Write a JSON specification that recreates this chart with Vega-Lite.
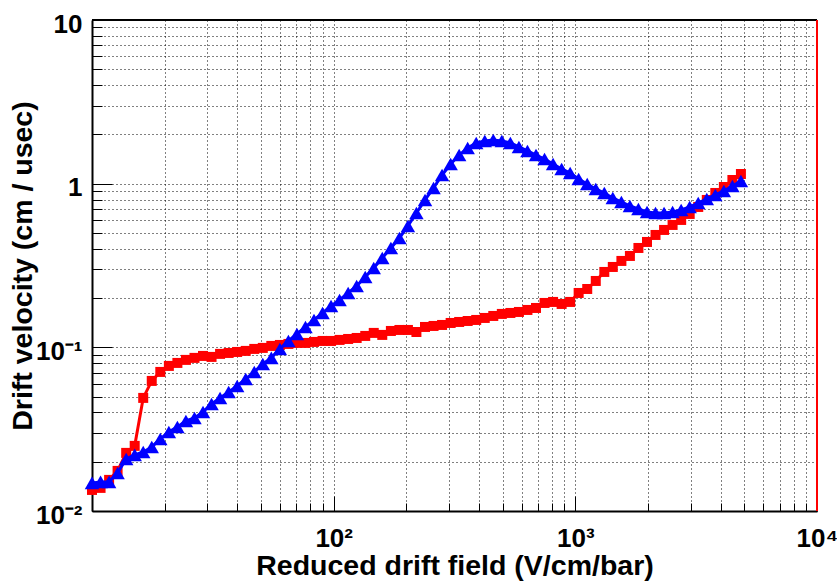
{
  "$schema": "https://vega.github.io/schema/vega-lite/v6.json",
  "width": 725,
  "height": 491,
  "autosize": {"type": "none"},
  "padding": {"left": 92, "top": 20, "right": 20, "bottom": 70},
  "background": "white",
  "config": {"view": {"stroke": null}},
  "data": {"values": [
    {"E":10.00,"s":"sq","v":0.01345},{"E":10.85,"s":"sq","v":0.01384},{"E":11.77,"s":"sq","v":0.01549},{"E":12.76,"s":"sq","v":0.01758},{"E":13.85,"s":"sq","v":0.02265},
    {"E":15.02,"s":"sq","v":0.025},{"E":16.29,"s":"sq","v":0.04909},{"E":17.67,"s":"sq","v":0.06234},{"E":19.17,"s":"sq","v":0.07075},{"E":20.80,"s":"sq","v":0.0770},
    {"E":22.56,"s":"sq","v":0.0803},{"E":24.47,"s":"sq","v":0.0838},{"E":26.55,"s":"sq","v":0.0862},{"E":28.80,"s":"sq","v":0.0886},{"E":31.24,"s":"sq","v":0.0874},
    {"E":33.88,"s":"sq","v":0.0912},{"E":36.76,"s":"sq","v":0.0924},{"E":39.87,"s":"sq","v":0.0937},{"E":43.25,"s":"sq","v":0.0951},{"E":46.93,"s":"sq","v":0.0978},
    {"E":50.90,"s":"sq","v":0.0992},{"E":55.21,"s":"sq","v":0.1020},{"E":59.90,"s":"sq","v":0.1034},{"E":64.97,"s":"sq","v":0.1049},{"E":70.47,"s":"sq","v":0.1064},
    {"E":76.44,"s":"sq","v":0.1064},{"E":82.91,"s":"sq","v":0.1079},{"E":89.95,"s":"sq","v":0.1094},{"E":97.54,"s":"sq","v":0.1094},{"E":105.8,"s":"sq","v":0.1110},
    {"E":114.8,"s":"sq","v":0.1125},{"E":124.5,"s":"sq","v":0.1141},{"E":135.1,"s":"sq","v":0.1174},{"E":146.5,"s":"sq","v":0.1225},{"E":158.9,"s":"sq","v":0.1191},
    {"E":172.5,"s":"sq","v":0.1259},{"E":187.1,"s":"sq","v":0.1277},{"E":202.9,"s":"sq","v":0.1277},{"E":220.0,"s":"sq","v":0.1241},{"E":238.8,"s":"sq","v":0.1332},
    {"E":259.0,"s":"sq","v":0.1351},{"E":280.9,"s":"sq","v":0.1370},{"E":304.8,"s":"sq","v":0.1409},{"E":330.6,"s":"sq","v":0.1429},{"E":358.5,"s":"sq","v":0.1449},
    {"E":388.9,"s":"sq","v":0.1470},{"E":421.9,"s":"sq","v":0.1512},{"E":457.6,"s":"sq","v":0.1555},{"E":496.4,"s":"sq","v":0.1600},{"E":538.6,"s":"sq","v":0.1622},
    {"E":584.2,"s":"sq","v":0.1645},{"E":633.6,"s":"sq","v":0.1692},{"E":687.5,"s":"sq","v":0.1740},{"E":745.7,"s":"sq","v":0.1867},{"E":808.9,"s":"sq","v":0.1894},
    {"E":877.6,"s":"sq","v":0.1841},{"E":951.7,"s":"sq","v":0.1894},{"E":1032,"s":"sq","v":0.2149},{"E":1120,"s":"sq","v":0.2273},{"E":1215,"s":"sq","v":0.2544},
    {"E":1318,"s":"sq","v":0.2888},{"E":1429,"s":"sq","v":0.3098},{"E":1551,"s":"sq","v":0.3372},{"E":1682,"s":"sq","v":0.3617},{"E":1824,"s":"sq","v":0.4047},
    {"E":1980,"s":"sq","v":0.4404},{"E":2147,"s":"sq","v":0.4860},{"E":2329,"s":"sq","v":0.5215},{"E":2526,"s":"sq","v":0.5595},{"E":2741,"s":"sq","v":0.6003},
    {"E":2973,"s":"sq","v":0.6530},{"E":3225,"s":"sq","v":0.7206},{"E":3499,"s":"sq","v":0.7953},{"E":3795,"s":"sq","v":0.8774},{"E":4117,"s":"sq","v":0.9546},
    {"E":4466,"s":"sq","v":1.053},{"E":4844,"s":"sq","v":1.146},
    {"E":10.00,"s":"tri","v":0.01485},{"E":10.85,"s":"tri","v":0.01506},{"E":11.77,"s":"tri","v":0.01506},{"E":12.76,"s":"tri","v":0.01709},{"E":13.85,"s":"tri","v":0.02080},
    {"E":15.02,"s":"tri","v":0.02202},{"E":16.29,"s":"tri","v":0.02296},{"E":17.67,"s":"tri","v":0.02463},{"E":19.17,"s":"tri","v":0.02757},{"E":20.80,"s":"tri","v":0.03042},
    {"E":22.56,"s":"tri","v":0.03264},{"E":24.47,"s":"tri","v":0.03551},{"E":26.55,"s":"tri","v":0.03704},{"E":28.80,"s":"tri","v":0.04030},{"E":31.24,"s":"tri","v":0.04510},
    {"E":33.88,"s":"tri","v":0.04909},{"E":36.76,"s":"tri","v":0.05339},{"E":39.87,"s":"tri","v":0.05808},{"E":43.25,"s":"tri","v":0.06412},{"E":46.93,"s":"tri","v":0.07075},
    {"E":50.90,"s":"tri","v":0.07915},{"E":55.21,"s":"tri","v":0.0862},{"E":59.90,"s":"tri","v":0.0978},{"E":64.97,"s":"tri","v":0.1094},{"E":70.47,"s":"tri","v":0.1208},
    {"E":76.44,"s":"tri","v":0.1332},{"E":82.91,"s":"tri","v":0.1470},{"E":89.95,"s":"tri","v":0.1622},{"E":97.54,"s":"tri","v":0.1790},{"E":105.8,"s":"tri","v":0.1949},
    {"E":114.8,"s":"tri","v":0.2149},{"E":124.5,"s":"tri","v":0.2372},{"E":135.1,"s":"tri","v":0.2692},{"E":146.5,"s":"tri","v":0.3055},{"E":158.9,"s":"tri","v":0.3516},
    {"E":172.5,"s":"tri","v":0.4047},{"E":187.1,"s":"tri","v":0.4659},{"E":202.9,"s":"tri","v":0.5517},{"E":220.0,"s":"tri","v":0.6622},{"E":238.8,"s":"tri","v":0.7953},
    {"E":259.0,"s":"tri","v":0.9413},{"E":280.9,"s":"tri","v":1.130},{"E":304.8,"s":"tri","v":1.319},{"E":330.6,"s":"tri","v":1.497},{"E":358.5,"s":"tri","v":1.652},
    {"E":388.9,"s":"tri","v":1.773},{"E":421.9,"s":"tri","v":1.823},{"E":457.6,"s":"tri","v":1.849},{"E":496.4,"s":"tri","v":1.823},{"E":538.6,"s":"tri","v":1.773},
    {"E":584.2,"s":"tri","v":1.676},{"E":633.6,"s":"tri","v":1.584},{"E":687.5,"s":"tri","v":1.497},{"E":745.7,"s":"tri","v":1.415},{"E":808.9,"s":"tri","v":1.319},
    {"E":877.6,"s":"tri","v":1.230},{"E":951.7,"s":"tri","v":1.162},{"E":1032,"s":"tri","v":1.068},{"E":1120,"s":"tri","v":0.9958},{"E":1215,"s":"tri","v":0.9281},
    {"E":1318,"s":"tri","v":0.8774},{"E":1429,"s":"tri","v":0.8177},{"E":1551,"s":"tri","v":0.7728},{"E":1682,"s":"tri","v":0.7307},{"E":1824,"s":"tri","v":0.7004},
    {"E":1980,"s":"tri","v":0.6716},{"E":2147,"s":"tri","v":0.6622},{"E":2329,"s":"tri","v":0.6622},{"E":2526,"s":"tri","v":0.6716},{"E":2741,"s":"tri","v":0.6907},
    {"E":2973,"s":"tri","v":0.7206},{"E":3225,"s":"tri","v":0.7620},{"E":3499,"s":"tri","v":0.8062},{"E":3795,"s":"tri","v":0.8531},{"E":4117,"s":"tri","v":0.9024},
    {"E":4466,"s":"tri","v":0.9681},{"E":4844,"s":"tri","v":1.039}
  ]},
  "layer": [
    {
      "transform": [{"filter": "datum.s == 'sq'"}],
      "mark": {"type": "line", "color": "#ff0000", "strokeWidth": 3,
               "point": {"shape": "square", "size": 100, "filled": true, "color": "#ff0000", "opacity": 1}},
      "encoding": {
        "x": {"field": "E", "type": "quantitative",
              "scale": {"type": "log", "domain": [10, 10000], "nice": false},
              "axis": {
                "title": "Reduced drift field (V/cm/bar)",
                "values": [10,20,30,40,50,60,70,80,90,100,200,300,400,500,600,700,800,900,1000,2000,3000,4000,5000,6000,7000,8000,9000,10000],
                "labelExpr": "datum.value == 100 ? '10²' : datum.value == 1000 ? '10³' : datum.value == 10000 ? '10⁴' : ''",
                "tickSize": {"condition": {"test": "datum.value == 10 || datum.value == 100 || datum.value == 1000 || datum.value == 10000", "value": -15}, "value": -8},
                "tickColor": "black", "tickWidth": 1,
                "grid": true, "gridDash": [1, 3], "gridColor": "black", "gridWidth": 1, "gridOpacity": 1,
                "domainColor": "black", "domainWidth": 2,
                "labelFont": "Liberation Sans", "labelFontWeight": "bold", "labelFontSize": 26, "labelColor": "black",
                "labelPadding": 29, "labelFlush": false, "labelOverlap": false,
                "titleFont": "Liberation Sans", "titleFontWeight": "bold", "titleFontSize": 28.5, "titleColor": "black",
                "titlePadding": -7
              }},
        "y": {"field": "v", "type": "quantitative",
              "scale": {"type": "log", "domain": [0.01, 10], "nice": false},
              "axis": {
                "title": "Drift velocity (cm / usec)",
                "values": [0.01,0.02,0.03,0.04,0.05,0.06,0.07,0.08,0.09,0.1,0.2,0.3,0.4,0.5,0.6,0.7,0.8,0.9,1,2,3,4,5,6,7,8,9,10],
                "labelExpr": "datum.value == 10 ? '10' : datum.value == 1 ? '1' : datum.value == 0.1 ? '10⁻¹' : datum.value == 0.01 ? '10⁻²' : ''",
                "tickSize": {"condition": {"test": "datum.value == 0.01 || datum.value == 0.1 || datum.value == 1 || datum.value == 10", "value": -20}, "value": -10},
                "tickColor": "black", "tickWidth": 1,
                "grid": true, "gridDash": [1, 3], "gridColor": "black", "gridWidth": 1, "gridOpacity": 1,
                "domainColor": "black", "domainWidth": 2,
                "labelFont": "Liberation Sans", "labelFontWeight": "bold", "labelFontSize": 26, "labelColor": "black",
                "labelPadding": 30, "labelOffset": 4, "labelFlush": false, "labelOverlap": false,
                "titleFont": "Liberation Sans", "titleFontWeight": "bold", "titleFontSize": 28.5, "titleColor": "black",
                "titlePadding": -2
              }}
      }
    },
    {
      "transform": [{"filter": "datum.s == 'tri'"}],
      "mark": {"type": "line", "color": "#0000ff", "strokeWidth": 3,
               "point": {"shape": "triangle-up", "size": 210, "filled": true, "color": "#0000ff", "opacity": 1}},
      "encoding": {
        "x": {"field": "E", "type": "quantitative"},
        "y": {"field": "v", "type": "quantitative"}
      }
    },
    {
      "mark": {"type": "rule", "color": "black", "strokeWidth": 2},
      "encoding": {"y": {"datum": 10, "type": "quantitative"}}
    },
    {
      "mark": {"type": "rule", "color": "#ff0000", "strokeWidth": 2},
      "encoding": {"x": {"datum": 10000, "type": "quantitative"}}
    }
  ]
}
